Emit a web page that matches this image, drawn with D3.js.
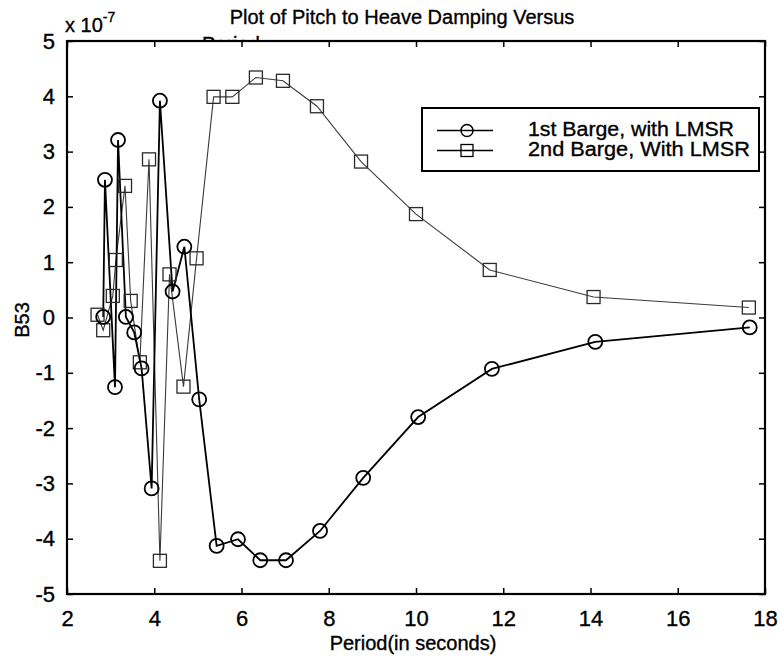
<!DOCTYPE html>
<html>
<head>
<meta charset="utf-8">
<script src="https://cdn.jsdelivr.net/npm/d3@7"></script>
<style>
  html, body { margin: 0; padding: 0; background: #fff; }
  svg { display: block; }
  text { font-family: "Liberation Sans", Arial, sans-serif; fill: #000; stroke: #000; stroke-width: 0.35px; }
</style>
</head>
<body>
<svg id="chart" width="780" height="660"></svg>
<script>
// Period (s) and pitch-to-heave damping B53 (units of 1e-7)
const periodBarge1 = [2.83, 2.87, 3.10, 3.17, 3.35, 3.54, 3.71, 3.94, 4.13, 4.42, 4.69, 5.03, 5.43, 5.92, 6.43, 7.02, 7.80, 8.79, 10.05, 11.74, 14.11, 17.65];
const b53Barge1    = [0.01, 2.49, -1.26, 3.21, 0.01, -0.27, -0.92, -3.09, 3.92, 0.47, 1.28, -1.48, -4.13, -4.01, -4.39, -4.39, -3.86, -2.90, -1.80, -0.93, -0.44, -0.18];

const periodBarge2 = [2.70, 2.83, 3.05, 3.12, 3.33, 3.46, 3.67, 3.88, 4.13, 4.35, 4.67, 4.97, 5.36, 5.79, 6.33, 6.95, 7.73, 8.74, 10.00, 11.69, 14.07, 17.63];
const b53Barge2    = [0.05, -0.23, 0.39, 1.04, 2.38, 0.30, -0.81, 2.86, -4.40, 0.78, -1.25, 1.07, 3.99, 3.99, 4.34, 4.28, 3.82, 2.82, 1.87, 0.86, 0.37, 0.18];

const xTicks = [2, 4, 6, 8, 10, 12, 14, 16, 18];
const yTicks = [-5, -4, -3, -2, -1, 0, 1, 2, 3, 4, 5];

const seriesNames = ["1st Barge, with LMSR", "2nd Barge, With LMSR"];

const titleText = "Plot of Pitch to Heave Damping Versus";
const titleLine2 = "Period";
const xLabel = "Period(in seconds)";
const yLabel = "B53";

const svg = d3.select("#chart");
const frame = { left: 67, top: 41, right: 765, bottom: 594 };
const FONT = 20;
const TICK_FONT = 22;

const x = d3.scaleLinear().domain([2, 18]).range([frame.left, frame.right]);
const y = d3.scaleLinear().domain([-5, 5]).range([frame.bottom, frame.top]);

// Title (the second line sits behind the axes box)
svg.append("text")
  .attr("x", 402).attr("y", 24)
  .attr("text-anchor", "middle")
  .style("font-size", FONT + "px")
  .text(titleText);
svg.append("text")
  .attr("x", 202).attr("y", 51)
  .style("font-size", FONT + "px")
  .text(titleLine2);

// Axes background
svg.append("rect")
  .attr("x", frame.left).attr("y", frame.top)
  .attr("width", frame.right - frame.left)
  .attr("height", frame.bottom - frame.top)
  .attr("fill", "#fff");

// Exponent label
const expo = svg.append("text").attr("x", 65).attr("y", 32).style("font-size", FONT + "px");
expo.append("tspan").text("x 10");
expo.append("tspan").attr("dy", -10).style("font-size", "14px").text("-7");

// Axes with inward ticks
const tickLen = 6;
const plainNum = d => String(d);
const styleAxis = g => {
  g.select(".domain").remove();
  g.selectAll(".tick line").attr("stroke", "#000").attr("stroke-width", 1.5);
  g.selectAll(".tick text")
    .style("font-size", TICK_FONT + "px")
    .style("font-family", '"Liberation Sans", Arial, sans-serif')
    .attr("fill", "#000");
};

svg.append("g")
  .attr("transform", `translate(0,${frame.bottom})`)
  .call(d3.axisBottom(x).tickValues(xTicks).tickSize(-tickLen).tickPadding(16).tickFormat(plainNum))
  .call(styleAxis);
svg.append("g")
  .attr("transform", `translate(0,${frame.top})`)
  .call(d3.axisTop(x).tickValues(xTicks).tickSize(-tickLen).tickFormat(""))
  .call(styleAxis);
svg.append("g")
  .attr("transform", `translate(${frame.left},0)`)
  .call(d3.axisLeft(y).tickValues(yTicks).tickSize(-tickLen).tickPadding(12).tickFormat(plainNum))
  .call(styleAxis);
svg.append("g")
  .attr("transform", `translate(${frame.right},0)`)
  .call(d3.axisRight(y).tickValues(yTicks).tickSize(-tickLen).tickFormat(""))
  .call(styleAxis);

// Axes box
svg.append("rect")
  .attr("x", frame.left).attr("y", frame.top)
  .attr("width", frame.right - frame.left)
  .attr("height", frame.bottom - frame.top)
  .attr("fill", "none").attr("stroke", "#000").attr("stroke-width", 2.2);

// Axis labels
svg.append("text")
  .attr("x", 413).attr("y", 650)
  .attr("text-anchor", "middle")
  .style("font-size", FONT + "px")
  .text(xLabel);
svg.append("text")
  .attr("transform", "translate(29,320) rotate(-90)")
  .attr("text-anchor", "middle")
  .style("font-size", FONT + "px")
  .text(yLabel);

// Series
const line = d3.line().x(d => x(d[0])).y(d => y(d[1]));
const pts1 = periodBarge1.map((p, i) => [p, b53Barge1[i]]);
const pts2 = periodBarge2.map((p, i) => [p, b53Barge2[i]]);

const plot = svg.append("g");

plot.append("path").datum(pts2)
  .attr("d", line).attr("fill", "none")
  .attr("stroke", "#3a3a3a").attr("stroke-width", 1.1);
plot.append("path").datum(pts1)
  .attr("d", line).attr("fill", "none")
  .attr("stroke", "#000").attr("stroke-width", 1.8);

const SQ = 13;
plot.selectAll("rect.sq").data(pts2).join("rect")
  .attr("class", "sq")
  .attr("x", d => x(d[0]) - SQ / 2).attr("y", d => y(d[1]) - SQ / 2)
  .attr("width", SQ).attr("height", SQ)
  .attr("fill", "none").attr("stroke", "#2a2a2a").attr("stroke-width", 1.3);
plot.selectAll("circle.ci").data(pts1).join("circle")
  .attr("class", "ci")
  .attr("cx", d => x(d[0])).attr("cy", d => y(d[1]))
  .attr("r", 7)
  .attr("fill", "none").attr("stroke", "#000").attr("stroke-width", 1.8);

// Legend
const legend = svg.append("g");
legend.append("rect")
  .attr("x", 422).attr("y", 108).attr("width", 337).attr("height", 63)
  .attr("fill", "#fff").attr("stroke", "#000").attr("stroke-width", 2);
const legendRows = [
  { name: seriesNames[0], yy: 130.5, marker: "circle", len: 206 },
  { name: seriesNames[1], yy: 150.5, marker: "square", len: 222 }
];
legendRows.forEach(r => {
  legend.append("line")
    .attr("x1", 437).attr("x2", 493).attr("y1", r.yy).attr("y2", r.yy)
    .attr("stroke", "#000").attr("stroke-width", 1.3);
  if (r.marker === "circle") {
    legend.append("circle").attr("cx", 467).attr("cy", r.yy).attr("r", 6)
      .attr("fill", "none").attr("stroke", "#000").attr("stroke-width", 1.5);
  } else {
    legend.append("rect").attr("x", 461).attr("y", r.yy - 6).attr("width", 12).attr("height", 12)
      .attr("fill", "none").attr("stroke", "#000").attr("stroke-width", 1.3);
  }
  legend.append("text")
    .attr("x", 528).attr("y", r.yy + 5.5)
    .attr("textLength", r.len)
    .attr("lengthAdjust", "spacingAndGlyphs")
    .style("font-size", FONT + "px")
    .text(r.name);
});
</script>
</body>
</html>
